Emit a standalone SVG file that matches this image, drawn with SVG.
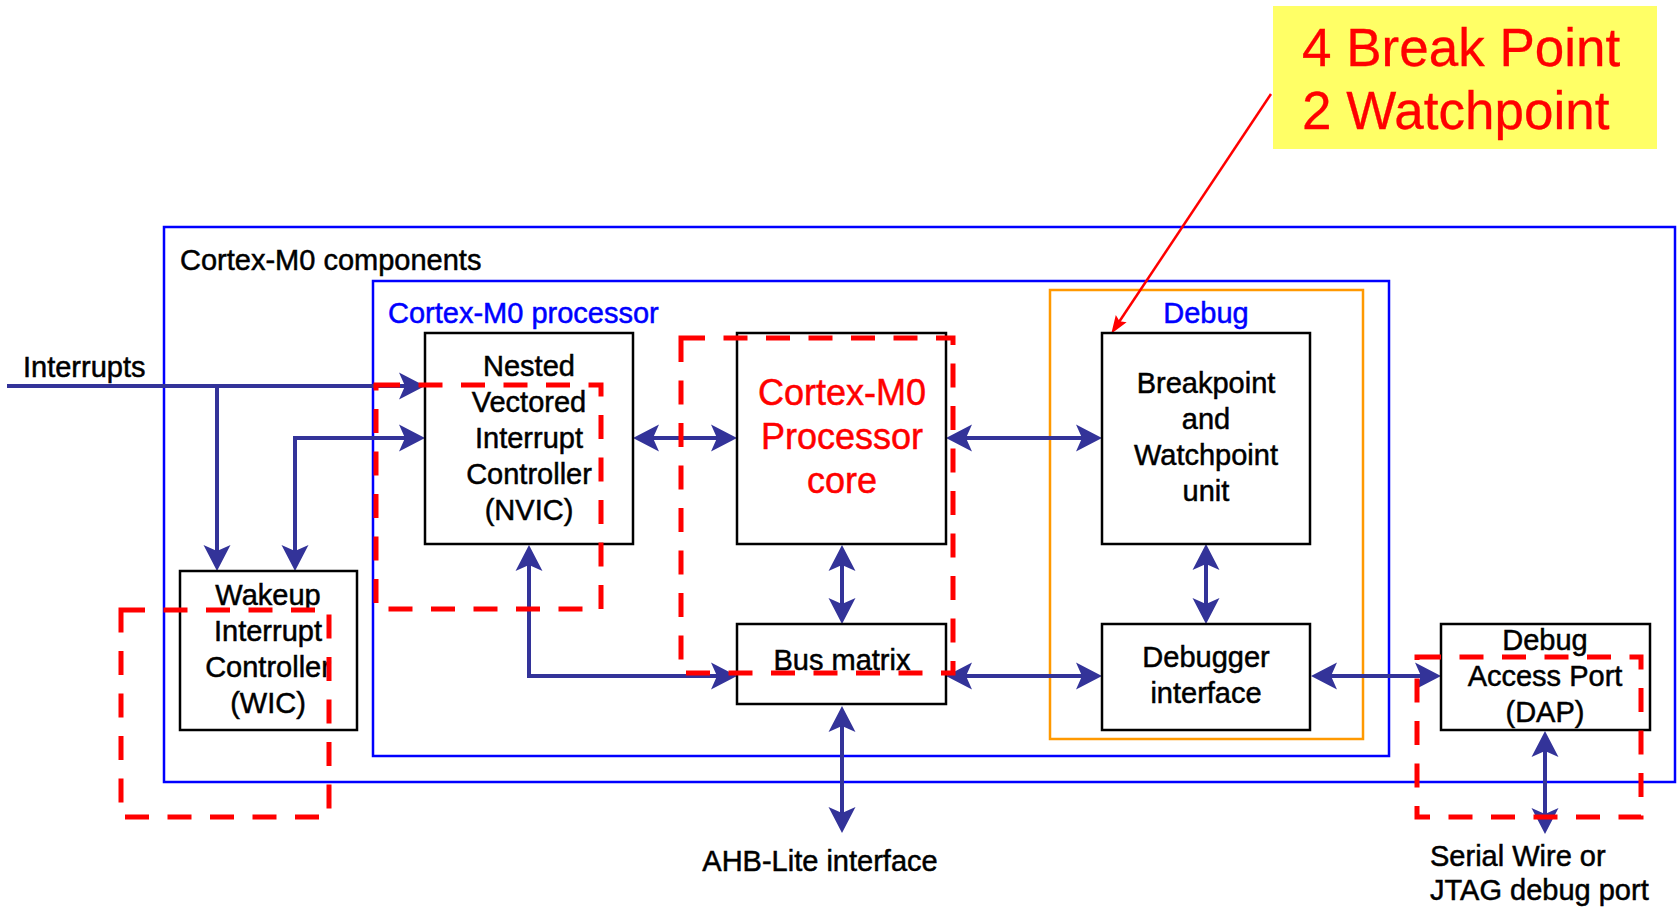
<svg xmlns="http://www.w3.org/2000/svg" width="1680" height="908" viewBox="0 0 1680 908">
<style>
text{font-family:"Liberation Sans",Arial,sans-serif;font-size:29px;fill:#000;stroke:#000;stroke-width:0.5}
.c{text-anchor:middle}
.blue{fill:#0000ff;stroke:#0000ff}
.red{fill:#ff0000;stroke:#ff0000}
.big{font-size:36px}
.huge{font-size:53px;stroke-width:0.3}
.node{fill:#fff;stroke:#000;stroke-width:2.5}
.grp{fill:none;stroke:#0000ff;stroke-width:2.5}
.org{fill:none;stroke:#ff9900;stroke-width:2.5}
.conn{fill:none;stroke:#333399;stroke-width:4;marker-start:url(#arr);marker-end:url(#arr)}
.one{marker-start:none}
.dash{fill:none;stroke:#ff0000;stroke-width:5;stroke-dasharray:24 18.5}
</style>
<defs>
<marker id="arr" markerUnits="userSpaceOnUse" markerWidth="30" markerHeight="30" refX="11" refY="13.5" orient="auto-start-reverse" overflow="visible">
<path d="M26,13.5 L0,0 L6,13.5 L0,27 Z" fill="#333399"/>
</marker>
<marker id="rarr" markerUnits="userSpaceOnUse" markerWidth="20" markerHeight="14" refX="4" refY="6.5" orient="auto" overflow="visible">
<path d="M18,6.5 L0,0 L3,6.5 L0,13 Z" fill="#ff0000"/>
</marker>
</defs>
<rect width="1680" height="908" fill="#fff"/>

<g id="components">
<rect class="grp" x="164" y="227" width="1511" height="555"/>
<text x="180" y="270">Cortex-M0 components</text>
</g>
<g id="processor">
<rect class="grp" x="373" y="281" width="1016" height="475"/>
<text class="blue" x="388" y="323">Cortex-M0 processor</text>
</g>
<g id="debug">
<rect class="org" x="1050" y="290" width="313" height="449"/>
<text class="blue c" x="1206" y="323">Debug</text>
</g>

<g id="connectors">
<path class="conn one" d="M7,386 H410"/>
<path class="conn one" d="M217,386 V556"/>
<path class="conn" d="M410,438 H295 V556"/>
<path class="conn" d="M648,438 H722"/>
<path class="conn" d="M961,438 H1087"/>
<path class="conn" d="M842,560 V609"/>
<path class="conn" d="M1206,559 V609"/>
<path class="conn" d="M961,676 H1087"/>
<path class="conn" d="M1326,676 H1426"/>
<path class="conn" d="M529,560 V676 H722"/>
<path class="conn" d="M842,721 V818"/>
<path class="conn" d="M1545,746 V819"/>
<line x1="1271" y1="94" x2="1119" y2="322" stroke="#ff0000" stroke-width="2.5" marker-end="url(#rarr)"/>
</g>

<g id="nvic">
<rect class="node" x="425" y="333" width="208" height="211"/>
<text class="c" x="529" y="376">Nested</text>
<text class="c" x="529" y="412">Vectored</text>
<text class="c" x="529" y="448">Interrupt</text>
<text class="c" x="529" y="484">Controller</text>
<text class="c" x="529" y="520">(NVIC)</text>
</g>
<g id="core">
<rect class="node" x="737" y="333" width="209" height="211"/>
<text class="c red big" x="842" y="405">Cortex-M0</text>
<text class="c red big" x="842" y="449">Processor</text>
<text class="c red big" x="842" y="493">core</text>
</g>
<g id="busmatrix">
<rect class="node" x="737" y="624" width="209" height="80"/>
<text class="c" x="842" y="670">Bus matrix</text>
</g>
<g id="bwunit">
<rect class="node" x="1102" y="333" width="208" height="211"/>
<text class="c" x="1206" y="393">Breakpoint</text>
<text class="c" x="1206" y="429">and</text>
<text class="c" x="1206" y="465">Watchpoint</text>
<text class="c" x="1206" y="501">unit</text>
</g>
<g id="debugger">
<rect class="node" x="1102" y="624" width="208" height="106"/>
<text class="c" x="1206" y="667">Debugger</text>
<text class="c" x="1206" y="703">interface</text>
</g>
<g id="dap">
<rect class="node" x="1441" y="624" width="209" height="106"/>
<text class="c" x="1545" y="650">Debug</text>
<text class="c" x="1545" y="686">Access Port</text>
<text class="c" x="1545" y="722">(DAP)</text>
</g>
<g id="wic">
<rect class="node" x="180" y="571" width="177" height="159"/>
<text class="c" x="268" y="605">Wakeup</text>
<text class="c" x="268" y="641">Interrupt</text>
<text class="c" x="268" y="677">Controller</text>
<text class="c" x="268" y="713">(WIC)</text>
</g>
<g id="interrupts">
<text x="23" y="377">Interrupts</text>
</g>
<g id="ahb">
<text class="c" x="820" y="871">AHB-Lite interface</text>
</g>
<g id="swj">
<text x="1430" y="866">Serial Wire or</text>
<text x="1430" y="900">JTAG debug port</text>
</g>
<g id="callout">
<rect x="1273" y="6" width="384" height="143" fill="#ffff66"/>
<text class="red huge" x="1302" y="66">4 Break Point</text>
<text class="red huge" x="1302" y="129">2 Watchpoint</text>
</g>

<g id="highlights">
<rect class="dash" x="121" y="610" width="208" height="207"/>
<rect class="dash" x="376" y="385" width="225" height="224"/>
<rect class="dash" x="681" y="338" width="272" height="335"/>
<rect class="dash" x="1417" y="657" width="224" height="160"/>
</g>
</svg>
